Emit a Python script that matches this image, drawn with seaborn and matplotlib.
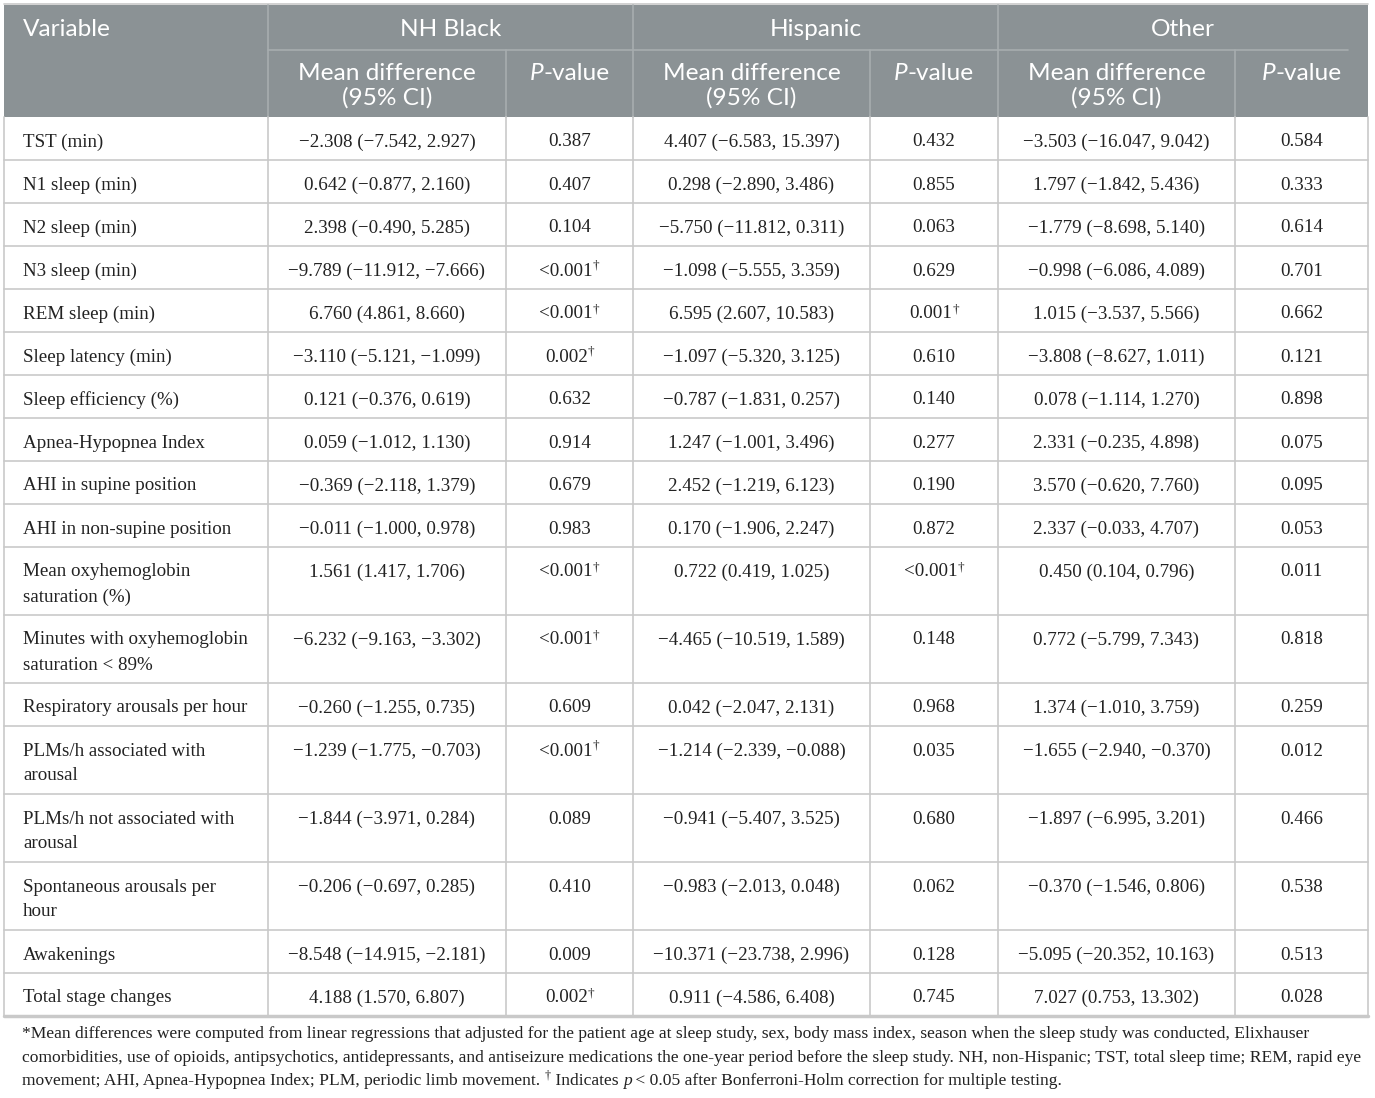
import numpy as np
import pandas as pd
import matplotlib
matplotlib.use("Agg")
import matplotlib.pyplot as plt
import seaborn as sns

# -----------------------------
# Table data
# -----------------------------
groups = ["NH Black", "Hispanic", "Other"]

variables = [
    "TST (min)", "N1 sleep (min)", "N2 sleep (min)", "N3 sleep (min)",
    "REM sleep (min)", "Sleep latency (min)", "Sleep efficiency (%)",
    "Apnea-Hypopnea Index", "AHI in supine position",
    "AHI in non-supine position", "Mean oxyhemoglobin\nsaturation (%)",
    "Minutes with oxyhemoglobin\nsaturation < 89%",
    "Respiratory arousals per hour", "PLMs/h associated with\narousal",
    "PLMs/h not associated with\narousal", "Spontaneous arousals per\nhour",
    "Awakenings", "Total stage changes",
]

black_diff = [
    "−2.308 (−7.542, 2.927)", "0.642 (−0.877, 2.160)", "2.398 (−0.490, 5.285)",
    "−9.789 (−11.912, −7.666)", "6.760 (4.861, 8.660)", "−3.110 (−5.121, −1.099)",
    "0.121 (−0.376, 0.619)", "0.059 (−1.012, 1.130)", "−0.369 (−2.118, 1.379)",
    "−0.011 (−1.000, 0.978)", "1.561 (1.417, 1.706)", "−6.232 (−9.163, −3.302)",
    "−0.260 (−1.255, 0.735)", "−1.239 (−1.775, −0.703)", "−1.844 (−3.971, 0.284)",
    "−0.206 (−0.697, 0.285)", "−8.548 (−14.915, −2.181)", "4.188 (1.570, 6.807)",
]
black_p = [
    "0.387", "0.407", "0.104", "<0.001†", "<0.001†", "0.002†", "0.632", "0.914",
    "0.679", "0.983", "<0.001†", "<0.001†", "0.609", "<0.001†", "0.089", "0.410",
    "0.009", "0.002†",
]
hisp_diff = [
    "4.407 (−6.583, 15.397)", "0.298 (−2.890, 3.486)", "−5.750 (−11.812, 0.311)",
    "−1.098 (−5.555, 3.359)", "6.595 (2.607, 10.583)", "−1.097 (−5.320, 3.125)",
    "−0.787 (−1.831, 0.257)", "1.247 (−1.001, 3.496)", "2.452 (−1.219, 6.123)",
    "0.170 (−1.906, 2.247)", "0.722 (0.419, 1.025)", "−4.465 (−10.519, 1.589)",
    "0.042 (−2.047, 2.131)", "−1.214 (−2.339, −0.088)", "−0.941 (−5.407, 3.525)",
    "−0.983 (−2.013, 0.048)", "−10.371 (−23.738, 2.996)", "0.911 (−4.586, 6.408)",
]
hisp_p = [
    "0.432", "0.855", "0.063", "0.629", "0.001†", "0.610", "0.140", "0.277",
    "0.190", "0.872", "<0.001†", "0.148", "0.968", "0.035", "0.680", "0.062",
    "0.128", "0.745",
]
other_diff = [
    "−3.503 (−16.047, 9.042)", "1.797 (−1.842, 5.436)", "−1.779 (−8.698, 5.140)",
    "−0.998 (−6.086, 4.089)", "1.015 (−3.537, 5.566)", "−3.808 (−8.627, 1.011)",
    "0.078 (−1.114, 1.270)", "2.331 (−0.235, 4.898)", "3.570 (−0.620, 7.760)",
    "2.337 (−0.033, 4.707)", "0.450 (0.104, 0.796)", "0.772 (−5.799, 7.343)",
    "1.374 (−1.010, 3.759)", "−1.655 (−2.940, −0.370)", "−1.897 (−6.995, 3.201)",
    "−0.370 (−1.546, 0.806)", "−5.095 (−20.352, 10.163)", "7.027 (0.753, 13.302)",
]
other_p = [
    "0.584", "0.333", "0.614", "0.701", "0.662", "0.121", "0.898", "0.075",
    "0.095", "0.053", "0.011", "0.818", "0.259", "0.012", "0.466", "0.538",
    "0.513", "0.028",
]

footnote = [
    "*Mean differences were computed from linear regressions that adjusted for the patient age at sleep study, sex, body mass index, season when the sleep study was conducted, Elixhauser",
    "comorbidities, use of opioids, antipsychotics, antidepressants, and antiseizure medications the one-year period before the sleep study. NH, non-Hispanic; TST, total sleep time; REM, rapid eye",
    "movement; AHI, Apnea-Hypopnea Index; PLM, periodic limb movement. ",
]

table = pd.DataFrame({
    "Variable": variables,
    "NH Black diff": black_diff, "NH Black p": black_p,
    "Hispanic diff": hisp_diff, "Hispanic p": hisp_p,
    "Other diff": other_diff, "Other p": other_p,
})

# -----------------------------
# Layout (pixels)
# -----------------------------
W, H = 1375, 1098
col_edges = [4, 268, 506, 633, 870, 998, 1235, 1368]
header_top, header_mid, header_bot = 5, 50, 117
row_h, line_h = 43, 25

HEAD_BG = "#8b9295"
HEAD_LINE = "#a7adaf"
GRID = "#c9c9c9"
TXT = "#222222"

sns.set_theme(style="white")
plt.rcParams["font.family"] = ["Liberation Serif", "DejaVu Serif"]

fig = plt.figure(figsize=(W / 100, H / 100), dpi=100)
ax = fig.add_axes([0, 0, 1, 1])
ax.set_xlim(0, W)
ax.set_ylim(H, 0)
ax.axis("off")
fig.canvas.draw()
renderer = fig.canvas.get_renderer()

SANS = ["Lato", "DejaVu Sans"]
SERIF = ["Liberation Serif", "DejaVu Serif"]


def rich(x, y, parts, ha="center"):
    """Place text segments side by side; parts = (string, kwargs, dy)."""
    objs = []
    for s, kw, dy in parts:
        t = ax.text(0, y + dy, s, va="center", ha="left", **kw)
        objs.append(t)
    widths = [t.get_window_extent(renderer).width for t in objs]
    total = sum(widths)
    x0 = x - total / 2 if ha == "center" else x
    for t, w in zip(objs, widths):
        t.set_x(x0)
        x0 += w


def cell(x, y, s, ha="center"):
    base = dict(fontsize=13.7, color=TXT, family=SERIF)
    if s.endswith("†"):
        rich(x, y, [(s[:-1], base, 0),
                    ("†", dict(fontsize=9.5, color=TXT, family=SERIF), -5)], ha)
    else:
        ax.text(x, y, s, va="center", ha=ha, **base)


# header background
ax.add_patch(plt.Rectangle((col_edges[0], header_top), col_edges[-1] - col_edges[0],
                           header_bot - header_top, color=HEAD_BG, lw=0))
ax.plot([col_edges[0], col_edges[-1]], [header_top - 1, header_top - 1], color=GRID, lw=1.2)

# header lines
ax.plot([col_edges[1], 1348], [header_mid, header_mid], color=HEAD_LINE, lw=1.2)
for i, xe in enumerate(col_edges[1:-1]):
    top = header_top if i % 2 == 0 else header_mid
    ax.plot([xe, xe], [top, header_bot], color=HEAD_LINE, lw=1.2)

hkw = dict(fontsize=17.6, color="white", family=SANS)
ax.text(23, 30, "Variable", va="center", ha="left", **hkw)
for g, name in enumerate(groups):
    x_l, x_m, x_r = col_edges[1 + 2 * g], col_edges[2 + 2 * g], col_edges[3 + 2 * g]
    ax.text((x_l + x_r) / 2, 30, name, va="center", ha="center", **hkw)
    ax.text((x_l + x_m) / 2, 73, "Mean difference", va="center", ha="center", **hkw)
    ax.text((x_l + x_m) / 2, 98, "(95% CI)", va="center", ha="center", **hkw)
    rich((x_m + x_r) / 2, 73, [("P", dict(hkw, style="italic"), 0), ("-value", hkw, 0)])

# body rows
y = header_bot
row_tops = []
for _, row in table.iterrows():
    n = row["Variable"].count("\n") + 1
    h = row_h + (n - 1) * line_h
    row_tops.append(y)
    yc = y + 25
    for k, part in enumerate(row["Variable"].split("\n")):
        cell(23, yc + k * line_h, part, ha="left")
    vals = row.iloc[1:].tolist()
    for j, v in enumerate(vals):
        cell((col_edges[j + 1] + col_edges[j + 2]) / 2, yc, v)
    y += h
table_bot = y

for yt in row_tops[1:]:
    ax.plot([col_edges[0], col_edges[-1]], [yt, yt], color=GRID, lw=1.2)
for xe in col_edges:
    ax.plot([xe, xe], [header_bot, table_bot], color=GRID, lw=1.2)
ax.plot([col_edges[0], col_edges[-1]], [table_bot, table_bot], color=GRID, lw=2.5)

# footnote: size chosen so the widest line fits the table width
widest = 0
for line in footnote[:2]:
    probe = ax.text(0, 0, line, fontsize=10, family=SERIF)
    widest = max(widest, probe.get_window_extent(renderer).width)
    probe.remove()
fsize = 10 * (1340 / widest)
fkw = dict(fontsize=fsize, color=TXT, family=SERIF)
fy = [1034, 1058, 1081]
for k, line in enumerate(footnote):
    if k == 2:
        rich(22, fy[k], [(line, fkw, 0), ("†", dict(fkw, fontsize=fsize * 0.7), -5),
                         (" Indicates ", fkw, 0), ("p", dict(fkw, style="italic"), 0),
                         (" < 0.05 after Bonferroni-Holm correction for multiple testing.", fkw, 0)],
             ha="left")
    else:
        ax.text(22, fy[k], line, va="center", ha="left", **fkw)

fig.savefig("out.png", dpi=100)
